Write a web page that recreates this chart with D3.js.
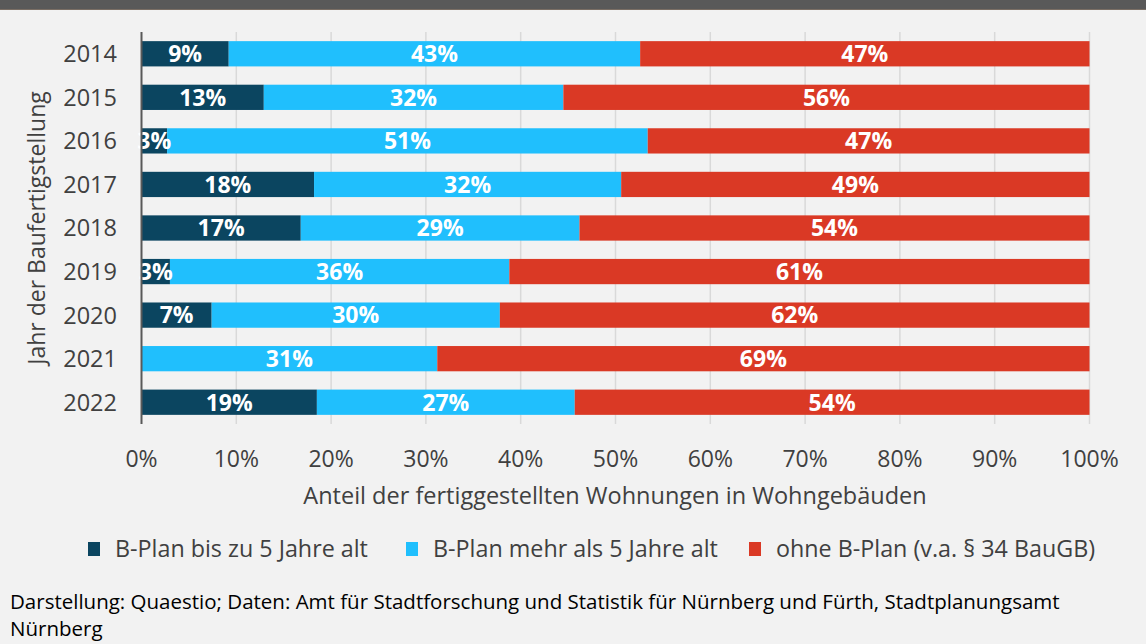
<!DOCTYPE html>
<html>
<head>
<meta charset="utf-8">
<script src="https://cdn.jsdelivr.net/npm/d3@7"></script>
<style>
  body { margin: 0; background: #f2f2f2; }
  svg { display: block; font-family: "Open Sans", sans-serif; }
</style>
</head>
<body>
<svg width="1146" height="644"></svg>
<script>
// Jahr der Baufertigstellung
var years = ["2014", "2015", "2016", "2017", "2018", "2019", "2020", "2021", "2022"];
// Anteile in %
var bplanNeu = [9.2, 12.9, 2.7, 18.2, 16.8, 3.0, 7.4, 0, 18.5];
var bplanAlt = [43.4, 31.6, 50.7, 32.4, 29.4, 35.8, 30.4, 31.2, 27.2];
var ohneBplan = [47.4, 55.5, 46.6, 49.4, 53.8, 61.2, 62.2, 68.8, 54.3];
var seriesNames = ["B-Plan bis zu 5 Jahre alt", "B-Plan mehr als 5 Jahre alt", "ohne B-Plan (v.a. § 34 BauGB)"];
var colors = ["#0b4560", "#20bffd", "#da3925"];
var xTicks = [0, 10, 20, 30, 40, 50, 60, 70, 80, 90, 100];

var svg = d3.select("svg");

// Titelbalken oben (abgeschnitten)
svg.append("rect").attr("x", 0).attr("y", 0).attr("width", 1146).attr("height", 9).attr("fill", "#595959");
svg.append("rect").attr("x", 0).attr("y", 9).attr("width", 1146).attr("height", 1).attr("fill", "#7a6e64");

var rows = years.map(function (y, i) {
  return { year: y, vals: [bplanNeu[i], bplanAlt[i], ohneBplan[i]] };
});

var x = d3.scaleLinear().domain([0, 100]).range([141.5, 1089.5]);
var y = d3.scaleBand().domain(years).range([32, 424]).paddingInner(0.42).paddingOuter(0.21);

// Gitterlinien
svg.append("g").selectAll("line")
  .data(xTicks.slice(1))
  .enter().append("line")
  .attr("x1", d => x(d)).attr("x2", d => x(d))
  .attr("y1", 32).attr("y2", 424)
  .attr("stroke", "#d9d9d9").attr("stroke-width", 1.5);

// Balken
var segs = [];
rows.forEach(function (r) {
  var acc = 0;
  r.vals.forEach(function (v, k) {
    segs.push({ year: r.year, k: k, x0: acc, x1: acc + v, v: v });
    acc += v;
  });
});

svg.append("g").selectAll("rect")
  .data(segs)
  .enter().append("rect")
  .attr("x", d => x(d.x0))
  .attr("y", d => y(d.year))
  .attr("width", d => x(d.x1) - x(d.x0))
  .attr("height", y.bandwidth())
  .attr("fill", d => colors[d.k]);

svg.append("g").selectAll("text")
  .data(segs.filter(d => d.v > 0))
  .enter().append("text")
  .attr("x", d => (x(d.x0) + x(d.x1)) / 2)
  .attr("y", d => y(d.year) + y.bandwidth() / 2)
  .attr("dy", "0.36em")
  .attr("text-anchor", "middle")
  .attr("fill", "#fff")
  .attr("font-weight", "bold")
  .attr("font-size", "23px")
  .text(d => Math.round(d.v) + "%");

// y-Achse
svg.append("line")
  .attr("x1", 141.5).attr("x2", 141.5).attr("y1", 32).attr("y2", 424)
  .attr("stroke", "#595959").attr("stroke-width", 2);

svg.append("g").selectAll("text")
  .data(years)
  .enter().append("text")
  .attr("x", 117)
  .attr("y", d => y(d) + y.bandwidth() / 2)
  .attr("dy", "0.36em")
  .attr("text-anchor", "end")
  .attr("fill", "#404040")
  .attr("font-size", "23.5px")
  .text(d => d);

svg.append("text")
  .attr("transform", "translate(37,228) rotate(-90)")
  .attr("dy", "0.36em")
  .attr("text-anchor", "middle")
  .attr("fill", "#404040")
  .attr("font-size", "23px")
  .text("Jahr der Baufertigstellung");

// x-Achse
svg.append("g").selectAll("text")
  .data(xTicks)
  .enter().append("text")
  .attr("x", d => x(d))
  .attr("y", 459)
  .attr("dy", "0.36em")
  .attr("text-anchor", "middle")
  .attr("fill", "#404040")
  .attr("font-size", "23px")
  .text(d => d + "%");

svg.append("text")
  .attr("x", 615).attr("y", 496)
  .attr("dy", "0.36em")
  .attr("text-anchor", "middle")
  .attr("fill", "#404040")
  .attr("font-size", "23.5px")
  .text("Anteil der fertiggestellten Wohnungen in Wohngebäuden");

// Legende
var legX = [88, 406, 749];
var leg = svg.append("g").selectAll("g")
  .data(seriesNames)
  .enter().append("g")
  .attr("transform", (d, i) => "translate(" + legX[i] + ",549)");
leg.append("rect").attr("x", 0).attr("y", -7).attr("width", 12).attr("height", 14)
  .attr("fill", (d, i) => colors[i]);
leg.append("text").attr("x", 27).attr("dy", "0.36em")
  .attr("fill", "#404040").attr("font-size", "23.3px")
  .text(d => d);

// Quelle
svg.append("text").attr("x", 10).attr("y", 602).attr("dy", "0.36em")
  .attr("fill", "#000").attr("font-size", "20.5px")
  .text("Darstellung: Quaestio; Daten: Amt für Stadtforschung und Statistik für Nürnberg und Fürth, Stadtplanungsamt");
svg.append("text").attr("x", 10).attr("y", 629).attr("dy", "0.36em")
  .attr("fill", "#000").attr("font-size", "20.5px")
  .text("Nürnberg");
</script>
</body>
</html>
